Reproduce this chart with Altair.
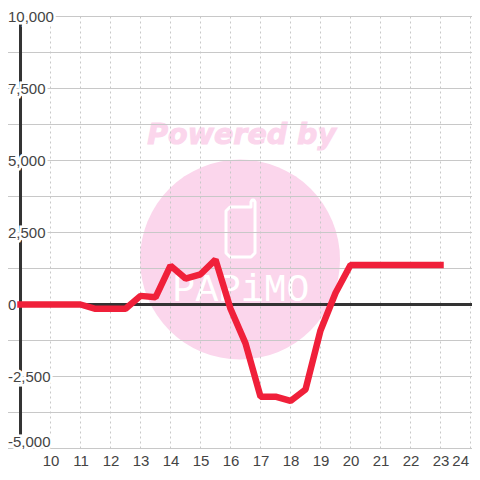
import altair as alt
import pandas as pd

hours = [9, 9.5, 10, 10.5, 11, 11.5, 12, 12.5, 13, 13.5, 14, 14.5, 15, 15.5, 16, 16.5, 17, 17.5, 18, 18.5, 19, 19.5, 20, 20.5, 21, 21.5, 22, 22.5, 23]
values = [0, 0, 0, 0, 0, -150, -150, -150, 300, 250, 1350, 900, 1050, 1560, -150, -1350, -3200, -3200, -3350, -2950, -900, 400, 1370, 1370, 1370, 1370, 1370, 1370, 1370]
y_ticks = [10000, 7500, 5000, 2500, 0, -2500]
y_bottom_tick = [-5000]
y_grid = [10000, 8750, 7500, 6250, 5000, 3750, 2500, 1250, 0, -1250, -2500, -3750, -5000]
x_ticks = list(range(10, 25))
phone_x = [15.983, 16.683, 16.683, 16.72, 16.78, 16.817, 16.817, 16.684, 15.983, 15.85, 15.85, 15.983]
phone_y = [3385, 3385, 3560, 3628, 3628, 3560, 1788, 1649, 1649, 1788, 3246, 3385]

X_DOMAIN = [8.583, 24.05]
Y_DOMAIN = [-4982.6, 10017.4]
PINK = "#fbd6ec"
GRID = "#c8c8c8"
DARK = "#333333"
TEXT = "#444444"
FONT = "Liberation Sans"

x_scale = alt.Scale(domain=X_DOMAIN, nice=False, zero=False)
y_scale = alt.Scale(domain=Y_DOMAIN, nice=False, zero=False)
x = alt.X("x:Q", scale=x_scale, title=None,
          axis=alt.Axis(values=x_ticks, format="d", grid=False,
                        domain=False, ticks=False, labelFontSize=15, labelColor=TEXT, labelFont=FONT,
                        labelPadding=5, labelFlush=2, labelFlushOffset=-2, labelOverlap=False))
y = alt.Y("y:Q", scale=y_scale, title=None, axis=None)


def frame(**cols):
    return alt.Chart(pd.DataFrame(cols))


def tick_text(vals, color, dy=0, **extra):
    return frame(y=vals, t=[f"{v:,}" for v in vals]).mark_text(
        align="left", baseline="middle", font=FONT, fontSize=15, color=color, dy=dy, **extra
    ).encode(x=alt.value(0), y=y, text="t:N")


circle = frame(x=[16.317], y=[1562]).mark_point(
    shape="circle", filled=True, size=40000, color=PINK, opacity=1
).encode(x=x, y=y)

powered = frame(x=[16.37], y=[5900], t=["Powered by"]).mark_text(
    font="DejaVu Sans", fontWeight="bold", fontStyle="italic", fontSize=28.5, color=PINK, stroke=PINK, strokeWidth=1
).encode(x=x, y=y, text="t:N")

papimo = frame(x=[16.35], y=[503], t=["PAPiMO"]).mark_text(
    font="Liberation Mono", fontSize=38, color="white"
).encode(x=x, y=y, text="t:N")

phone = frame(x=phone_x, y=phone_y, o=list(range(len(phone_x)))).mark_line(
    color="white", strokeWidth=3, strokeJoin="round", strokeCap="round"
).encode(x=x, y=y, order="o:Q")

grid_h = frame(y=y_grid).mark_rule(color=GRID, strokeWidth=1).encode(y=y)
grid_v = frame(x=x_ticks, y=[10000] * len(x_ticks), y2=[-5000] * len(x_ticks)).mark_rule(
    color=GRID, strokeWidth=1, strokeDash=[2, 3]
).encode(x=x, y=y, y2="y2:Q")

v_axis = frame(x=[9], y=[10000], y2=[-5000]).mark_rule(
    color=DARK, strokeWidth=3
).encode(x=x, y=y, y2="y2:Q")

zero = frame(x=[9], x2=[X_DOMAIN[1]], y=[0]).mark_rule(
    color=DARK, strokeWidth=3
).encode(x=x, x2="x2:Q", y=y)

halo = tick_text(y_ticks, "white", stroke="white", strokeWidth=5)
labels = tick_text(y_ticks, TEXT)
halo_bottom = tick_text(y_bottom_tick, "white", dy=-7, stroke="white", strokeWidth=5)
label_bottom = tick_text(y_bottom_tick, TEXT, dy=-7)

line = frame(x=hours, y=values).mark_line(
    color="#f0203a", strokeWidth=6.5, strokeJoin="bevel", strokeCap="square"
).encode(x=x, y=y)

chart = alt.layer(
    circle, powered, papimo, phone, grid_h, grid_v, v_axis, zero,
    halo, halo_bottom, labels, label_bottom, line
).properties(
    width=464, height=432,
    padding={"left": 0, "right": 0, "top": 8, "bottom": 24},
    autosize=alt.AutoSizeParams(type="none"),
).configure_view(stroke=None)

chart.save("out.html", embed_options={"renderer": "svg", "actions": False})
